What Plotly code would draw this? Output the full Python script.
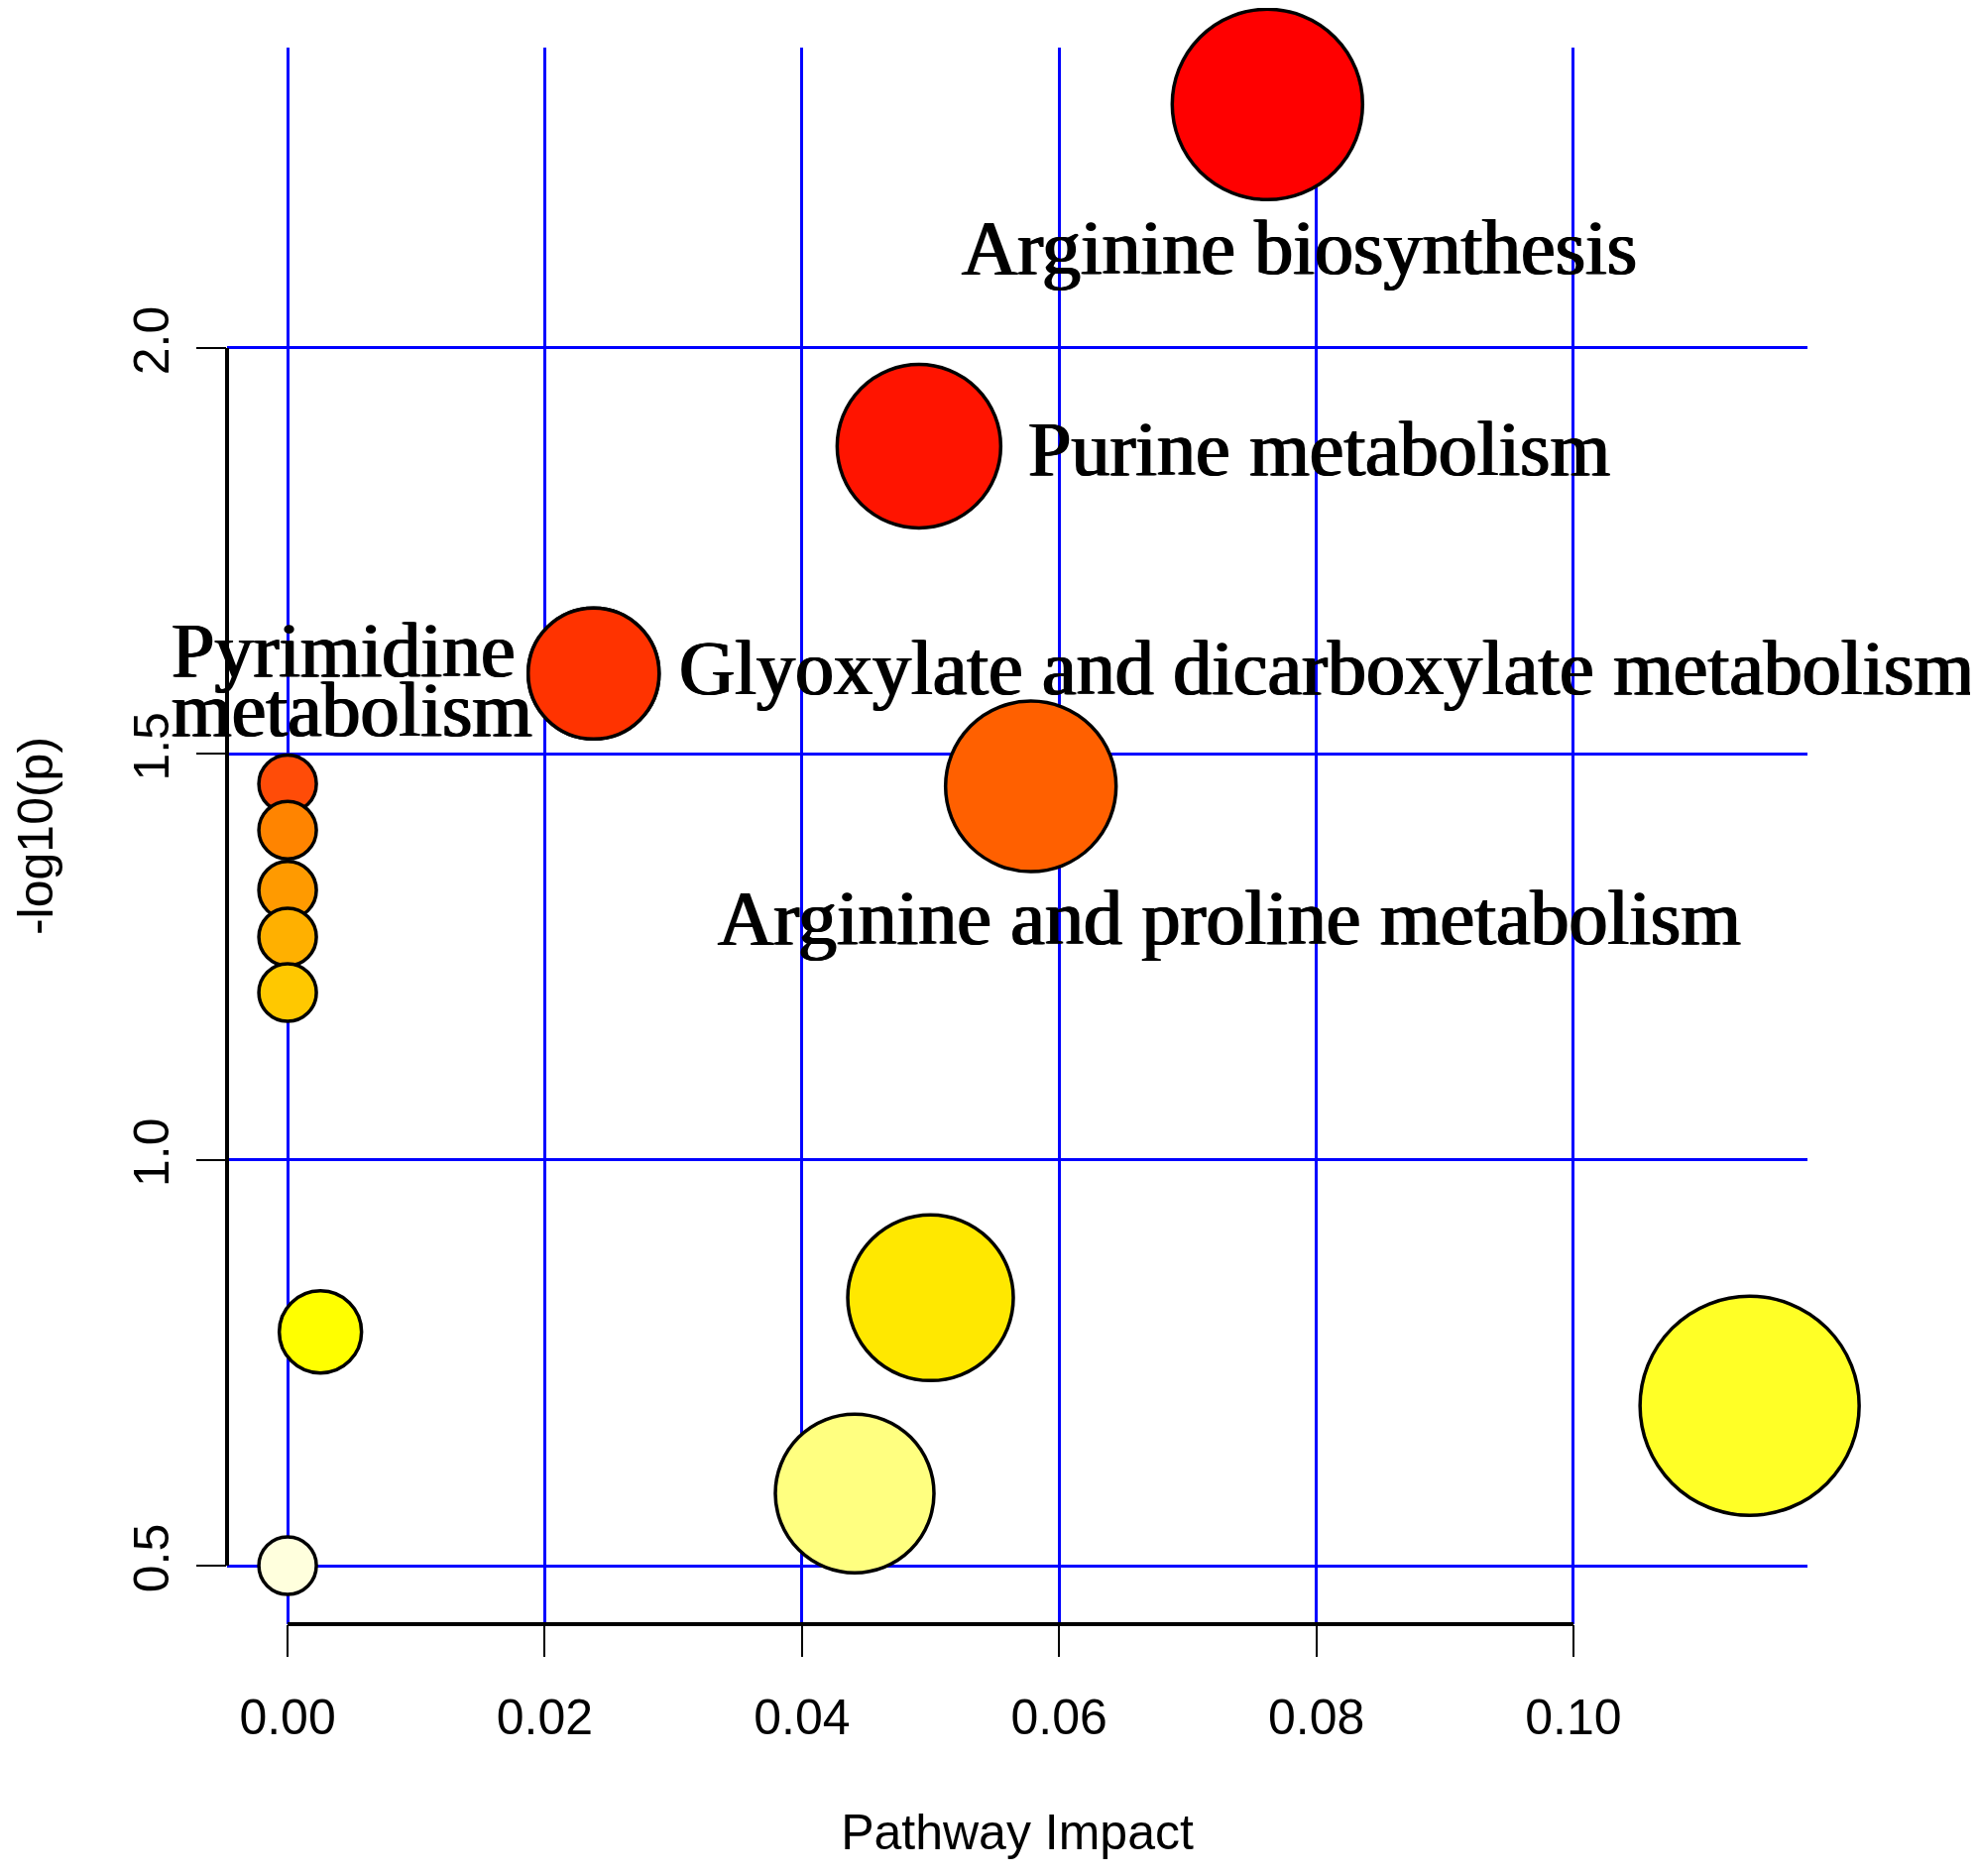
import plotly.graph_objects as go

# ---------------- data ----------------
pathway_names = [
    "Arginine biosynthesis",
    "Purine metabolism",
    "Glyoxylate and dicarboxylate metabolism",
    "Pyrimidine metabolism",
    "Arginine and proline metabolism",
    "pathway 6", "pathway 7", "pathway 8", "pathway 9", "pathway 10",
    "pathway 11", "pathway 12", "pathway 13", "pathway 14", "pathway 15",
]
pathway_impact = [0.0762, 0.0491, 0.0238, 0.0238, 0.0578,
                  0.0, 0.0, 0.0, 0.0, 0.0,
                  0.00255, 0.0500, 0.0441, 0.1137, 0.0]
neg_log10_p = [2.300, 1.879, 1.599, 1.599, 1.460,
               1.463, 1.406, 1.332, 1.2745, 1.206,
               0.788, 0.830, 0.589, 0.697, 0.500]

x_ticks = [0.00, 0.02, 0.04, 0.06, 0.08, 0.10]
x_tick_labels = ["0.00", "0.02", "0.04", "0.06", "0.08", "0.10"]
y_ticks = [0.5, 1.0, 1.5, 2.0]
y_tick_labels = ["0.5", "1.0", "1.5", "2.0"]

# ---------------- styles ----------------
fill_colors = ["#FF0000", "#FF1400", "#FF3300", "#FF3300", "#FF6000",
               "#FF4C08", "#FF8400", "#FF9A00", "#FFB000", "#FFC800",
               "#FFFF00", "#FFE800", "#FFFF80", "#FFFF26", "#FFFFDD"]
marker_diam = [192, 165, 132, 132, 172,
               58, 58, 58, 58, 58,
               83, 167, 160, 221, 58]

# label placement: (point index, text, xanchor, xshift px, yshift px)
label_style = [
    (0, "Arginine biosynthesis", "center", 32, -144),
    (1, "Purine metabolism", "left", 108, -2),
    (2, "Glyoxylate and dicarboxylate metabolism", "left", 84, 6),
    (3, "Pyrimidine", "left", -428, 24),
    (3, "metabolism", "left", -428, -36),
    (4, "Arginine and proline metabolism", "center", 200, -132),
]

W, H = 1995, 1892
sans = "Liberation Sans, Arial, sans-serif"
serif = "Liberation Serif, Times New Roman, serif"

fig = go.Figure()
fig.add_trace(go.Scatter(
    x=pathway_impact, y=neg_log10_p, mode="markers",
    text=pathway_names, hoverinfo="text", cliponaxis=False,
    marker=dict(size=marker_diam, color=fill_colors, opacity=1,
                line=dict(color="black", width=3.5)),
    showlegend=False,
))

annotations = []
for idx, txt, xa, xs, ys in label_style:
    annotations.append(dict(
        x=pathway_impact[idx], y=neg_log10_p[idx], xref="x", yref="y",
        text=txt, showarrow=False, xanchor=xa, yanchor="middle",
        xshift=xs, yshift=ys,
        font=dict(family=serif, size=78, color="black",
                  shadow="1px 0 0 black, -1px 0 0 black"),
    ))

shapes = [
    dict(type="line", xref="x", yref="paper",
         x0=min(x_ticks), x1=max(x_ticks), y0=0, y1=0,
         line=dict(color="black", width=4)),
    dict(type="line", xref="paper", yref="y",
         x0=0, x1=0, y0=min(y_ticks), y1=max(y_ticks),
         line=dict(color="black", width=4)),
]

fig.update_layout(
    width=W, height=H,
    margin=dict(l=221, r=180, t=40, b=262, autoexpand=False),
    paper_bgcolor="white", plot_bgcolor="white",
    annotations=annotations, shapes=shapes,
    font=dict(family=sans, color="black"),
    xaxis=dict(
        range=[-0.00471, 0.1182], tickvals=x_ticks, ticktext=x_tick_labels,
        showgrid=True, gridcolor="#0000FF", gridwidth=3,
        zeroline=False, showline=False, automargin=False,
        ticks="outside", ticklen=32, tickwidth=2, tickcolor="black",
        ticklabelstandoff=18,
        tickfont=dict(family=sans, size=50, color="black"),
        title=dict(text="Pathway Impact", standoff=70,
                   font=dict(family=sans, size=50, color="black")),
    ),
    yaxis=dict(
        range=[0.428, 2.370], tickvals=y_ticks, ticktext=y_tick_labels,
        showgrid=True, gridcolor="#0000FF", gridwidth=3,
        zeroline=False, showline=False, automargin=False,
        ticks="outside", ticklen=30, tickwidth=2, tickcolor="black",
        tickangle=-90, ticklabelstandoff=8,
        tickfont=dict(family=sans, size=50, color="black"),
        title=dict(text="-log10(p)", standoff=70,
                   font=dict(family=sans, size=50, color="black")),
    ),
)

fig.write_html("out.html", config={"displayModeBar": False})
